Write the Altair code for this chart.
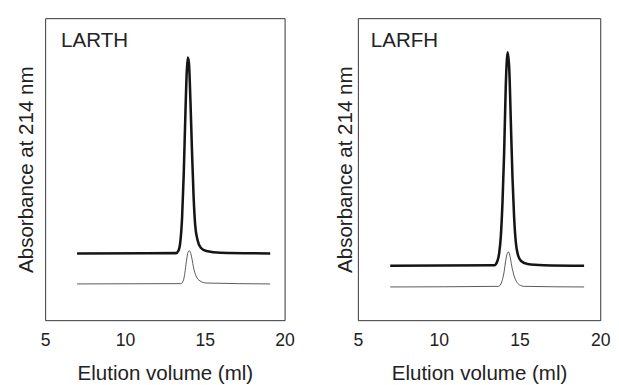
import altair as alt
import pandas as pd

# ---------------- data ----------------
x_ticks = [5, 10, 15, 20]

larth_thick_x = [7, 13.2, 13.35, 13.47, 13.58, 13.68, 13.78, 13.87, 13.94, 14.01, 14.1, 14.2, 14.3, 14.4, 14.55, 14.75, 15.1, 16.0, 19.1]
larth_thick_y = [22.1, 22.2, 23, 26, 34, 48, 67, 82, 87, 85, 73, 56, 41, 31.5, 26.5, 24, 22.9, 22.3, 22.1]

larth_thin_x = [7, 13.5, 13.65, 13.75, 13.85, 13.95, 14.03, 14.1, 14.2, 14.3, 14.45, 14.7, 15.1, 19.1]
larth_thin_y = [12, 12.1, 13, 15.5, 19.5, 22.5, 23, 22.5, 20.3, 17.3, 14.7, 13, 12.3, 12]

larfh_thick_x = [7, 13.45, 13.63, 13.74, 13.85, 13.95, 14.05, 14.15, 14.27, 14.37, 14.47, 14.57, 14.67, 14.77, 14.92, 15.1, 15.5, 16.5, 19]
larfh_thick_y = [18, 18.2, 19.5, 22, 28, 39, 55, 77, 88.7, 83, 65, 47, 34, 26, 21.4, 19.6, 18.6, 18.2, 18]

larfh_thin_x = [7, 13.7, 13.85, 13.95, 14.05, 14.15, 14.25, 14.33, 14.42, 14.52, 14.65, 14.8, 15.0, 15.3, 19]
larfh_thin_y = [11, 11.2, 12, 13.5, 16, 19.8, 22.2, 22.6, 21, 18, 15, 12.9, 11.7, 11.2, 11]

panel_names = ["LARTH", "LARFH"]
label_x = [6.0, 5.8]
label_y = [90.5, 90.5]

FONT = "Liberation Sans"
TXT = "#222222"


def panel(name, tx, ty, nx, ny, lx, ly, width, title_pad):
    thick = pd.DataFrame({"x": tx, "y": ty})
    thin = pd.DataFrame({"x": nx, "y": ny})
    lab = pd.DataFrame({"x": [lx], "y": [ly], "t": [name]})

    xs = alt.Scale(domain=[5, 20], nice=False, zero=False)
    ys = alt.Scale(domain=[0, 100], nice=False, zero=False)
    xa = alt.Axis(values=x_ticks, title="Elution volume (ml)", grid=False, ticks=False,
                  domain=False, labelFontSize=18, labelPadding=12, titleFontSize=21,
                  titlePadding=14, labelFont=FONT, titleFont=FONT, titleFontWeight="normal",
                  labelColor=TXT, titleColor=TXT, labelFlush=False)
    ya = alt.Axis(title="Absorbance at 214 nm", labels=False, ticks=False, grid=False,
                  domain=False, titleFontSize=21, titlePadding=title_pad, titleFont=FONT,
                  titleFontWeight="normal", titleColor=TXT)

    l1 = alt.Chart(thick).mark_line(color="#151515", strokeWidth=2.6, interpolate="monotone").encode(
        x=alt.X("x:Q", scale=xs, axis=xa), y=alt.Y("y:Q", scale=ys, axis=ya))
    l2 = alt.Chart(thin).mark_line(color="#444444", strokeWidth=0.9, interpolate="monotone").encode(
        x=alt.X("x:Q", scale=xs), y=alt.Y("y:Q", scale=ys))
    tx_ = alt.Chart(lab).mark_text(align="left", baseline="alphabetic", fontSize=21, font=FONT,
                                   color=TXT).encode(
        x=alt.X("x:Q", scale=xs), y=alt.Y("y:Q", scale=ys), text="t:N")
    return alt.layer(l1, l2, tx_).properties(
        width=width, height=309,
        view=alt.ViewBackground(stroke="#333333", strokeWidth=1, fill="white"))


left = panel(panel_names[0], larth_thick_x, larth_thick_y, larth_thin_x, larth_thin_y,
             label_x[0], label_y[0], 245, 9)
right = panel(panel_names[1], larfh_thick_x, larfh_thick_y, larfh_thin_x, larfh_thin_y,
              label_x[1], label_y[1], 248, 3)

chart = alt.hconcat(left, right, spacing=39).properties(
    padding={"left": 7, "top": 5, "right": 0, "bottom": 0}
).configure_view(stroke="#333333", strokeWidth=1).configure(background="white")

chart.save("out.html", embed_options={"renderer": "svg", "actions": False})
